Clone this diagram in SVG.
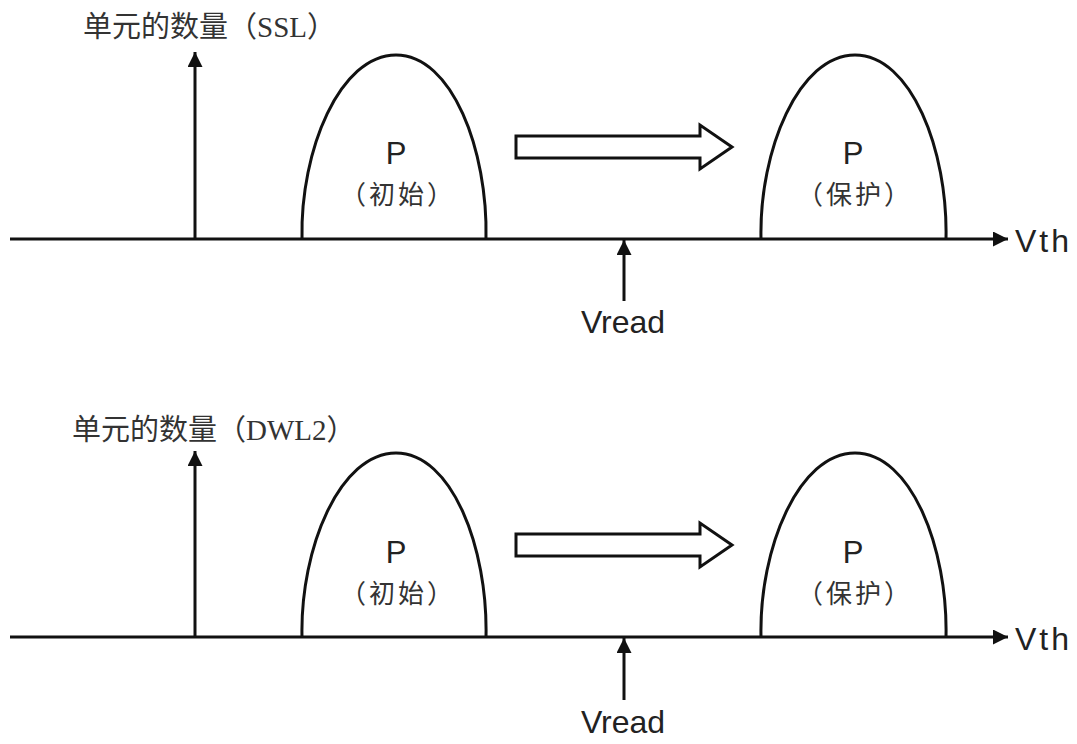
<svg xmlns="http://www.w3.org/2000/svg" width="1077" height="744" viewBox="0 0 1077 744">
<defs>
<style>
.ln{stroke:#111;stroke-width:3;fill:none}
.hump{stroke:#111;stroke-width:3;fill:none}
.hollow{stroke:#111;stroke-width:3;fill:#fff;stroke-linejoin:miter}
.ttl{font-family:"Liberation Serif","Noto Sans CJK SC",serif;font-size:29px;fill:#333}
.lbl{font-family:"Liberation Sans","Noto Sans CJK SC",sans-serif;fill:#222}
.p{font-size:31px;text-anchor:middle}
.cj{font-family:"Noto Sans CJK SC",sans-serif;font-size:26px;letter-spacing:3px;text-anchor:middle;fill:#333}
.ax{font-size:32px}
.vth{letter-spacing:3px}
</style>
<marker id="ah" viewBox="0 0 10 10" refX="10" refY="5" markerWidth="6.5" markerHeight="5" markerUnits="strokeWidth" orient="auto">
<path d="M0,0 L10,5 L0,10 Z" fill="#111"/>
</marker>
</defs>
<rect width="1077" height="744" fill="#fff"/>

<g id="panel-top">
<g id="connectors-top">
<line class="ln" x1="10" y1="239" x2="1008" y2="239" marker-end="url(#ah)"/>
<line class="ln" x1="195" y1="239" x2="195" y2="52" marker-end="url(#ah)"/>
<line class="ln" x1="624" y1="301" x2="624" y2="240" marker-end="url(#ah)"/>
<path class="hollow" d="M516,136 L700,136 L700,125 L732,147 L700,169 L700,158 L516,158 Z"/>
</g>
<text class="ttl" x="83" y="37">单元的数量（SSL）</text>
<g id="hump-initial-top">
<path class="hump" d="M302,239 C300,150 340,55 396,55 C452,55 488,150 486,239"/>
<text class="lbl p" x="396" y="164">P</text>
<text class="cj" x="398" y="204">（初始）</text>
</g>
<g id="hump-protect-top">
<path class="hump" d="M761,239 C759,150 799,55 855,55 C911,55 948,150 946,239"/>
<text class="lbl p" x="853" y="164">P</text>
<text class="cj" x="855" y="204">（保护）</text>
</g>
<text class="lbl ax vth" x="1015" y="252">Vth</text>
<text class="lbl ax" x="623" y="333" text-anchor="middle">Vread</text>
</g>

<g id="panel-bottom">
<g id="connectors-bottom">
<line class="ln" x1="10" y1="637" x2="1008" y2="637" marker-end="url(#ah)"/>
<line class="ln" x1="195" y1="637" x2="195" y2="451" marker-end="url(#ah)"/>
<line class="ln" x1="624" y1="700" x2="624" y2="638" marker-end="url(#ah)"/>
<path class="hollow" d="M516,534 L700,534 L700,523 L732,545 L700,567 L700,556 L516,556 Z"/>
</g>
<text class="ttl" x="72" y="440">单元的数量（DWL2）</text>
<g id="hump-initial-bottom">
<path class="hump" d="M302,637 C300,548 340,453 396,453 C452,453 488,548 486,637"/>
<text class="lbl p" x="396" y="563">P</text>
<text class="cj" x="398" y="603">（初始）</text>
</g>
<g id="hump-protect-bottom">
<path class="hump" d="M761,637 C759,548 799,453 855,453 C911,453 948,548 946,637"/>
<text class="lbl p" x="853" y="563">P</text>
<text class="cj" x="855" y="603">（保护）</text>
</g>
<text class="lbl ax vth" x="1015" y="650">Vth</text>
<text class="lbl ax" x="623" y="733" text-anchor="middle">Vread</text>
</g>
</svg>
